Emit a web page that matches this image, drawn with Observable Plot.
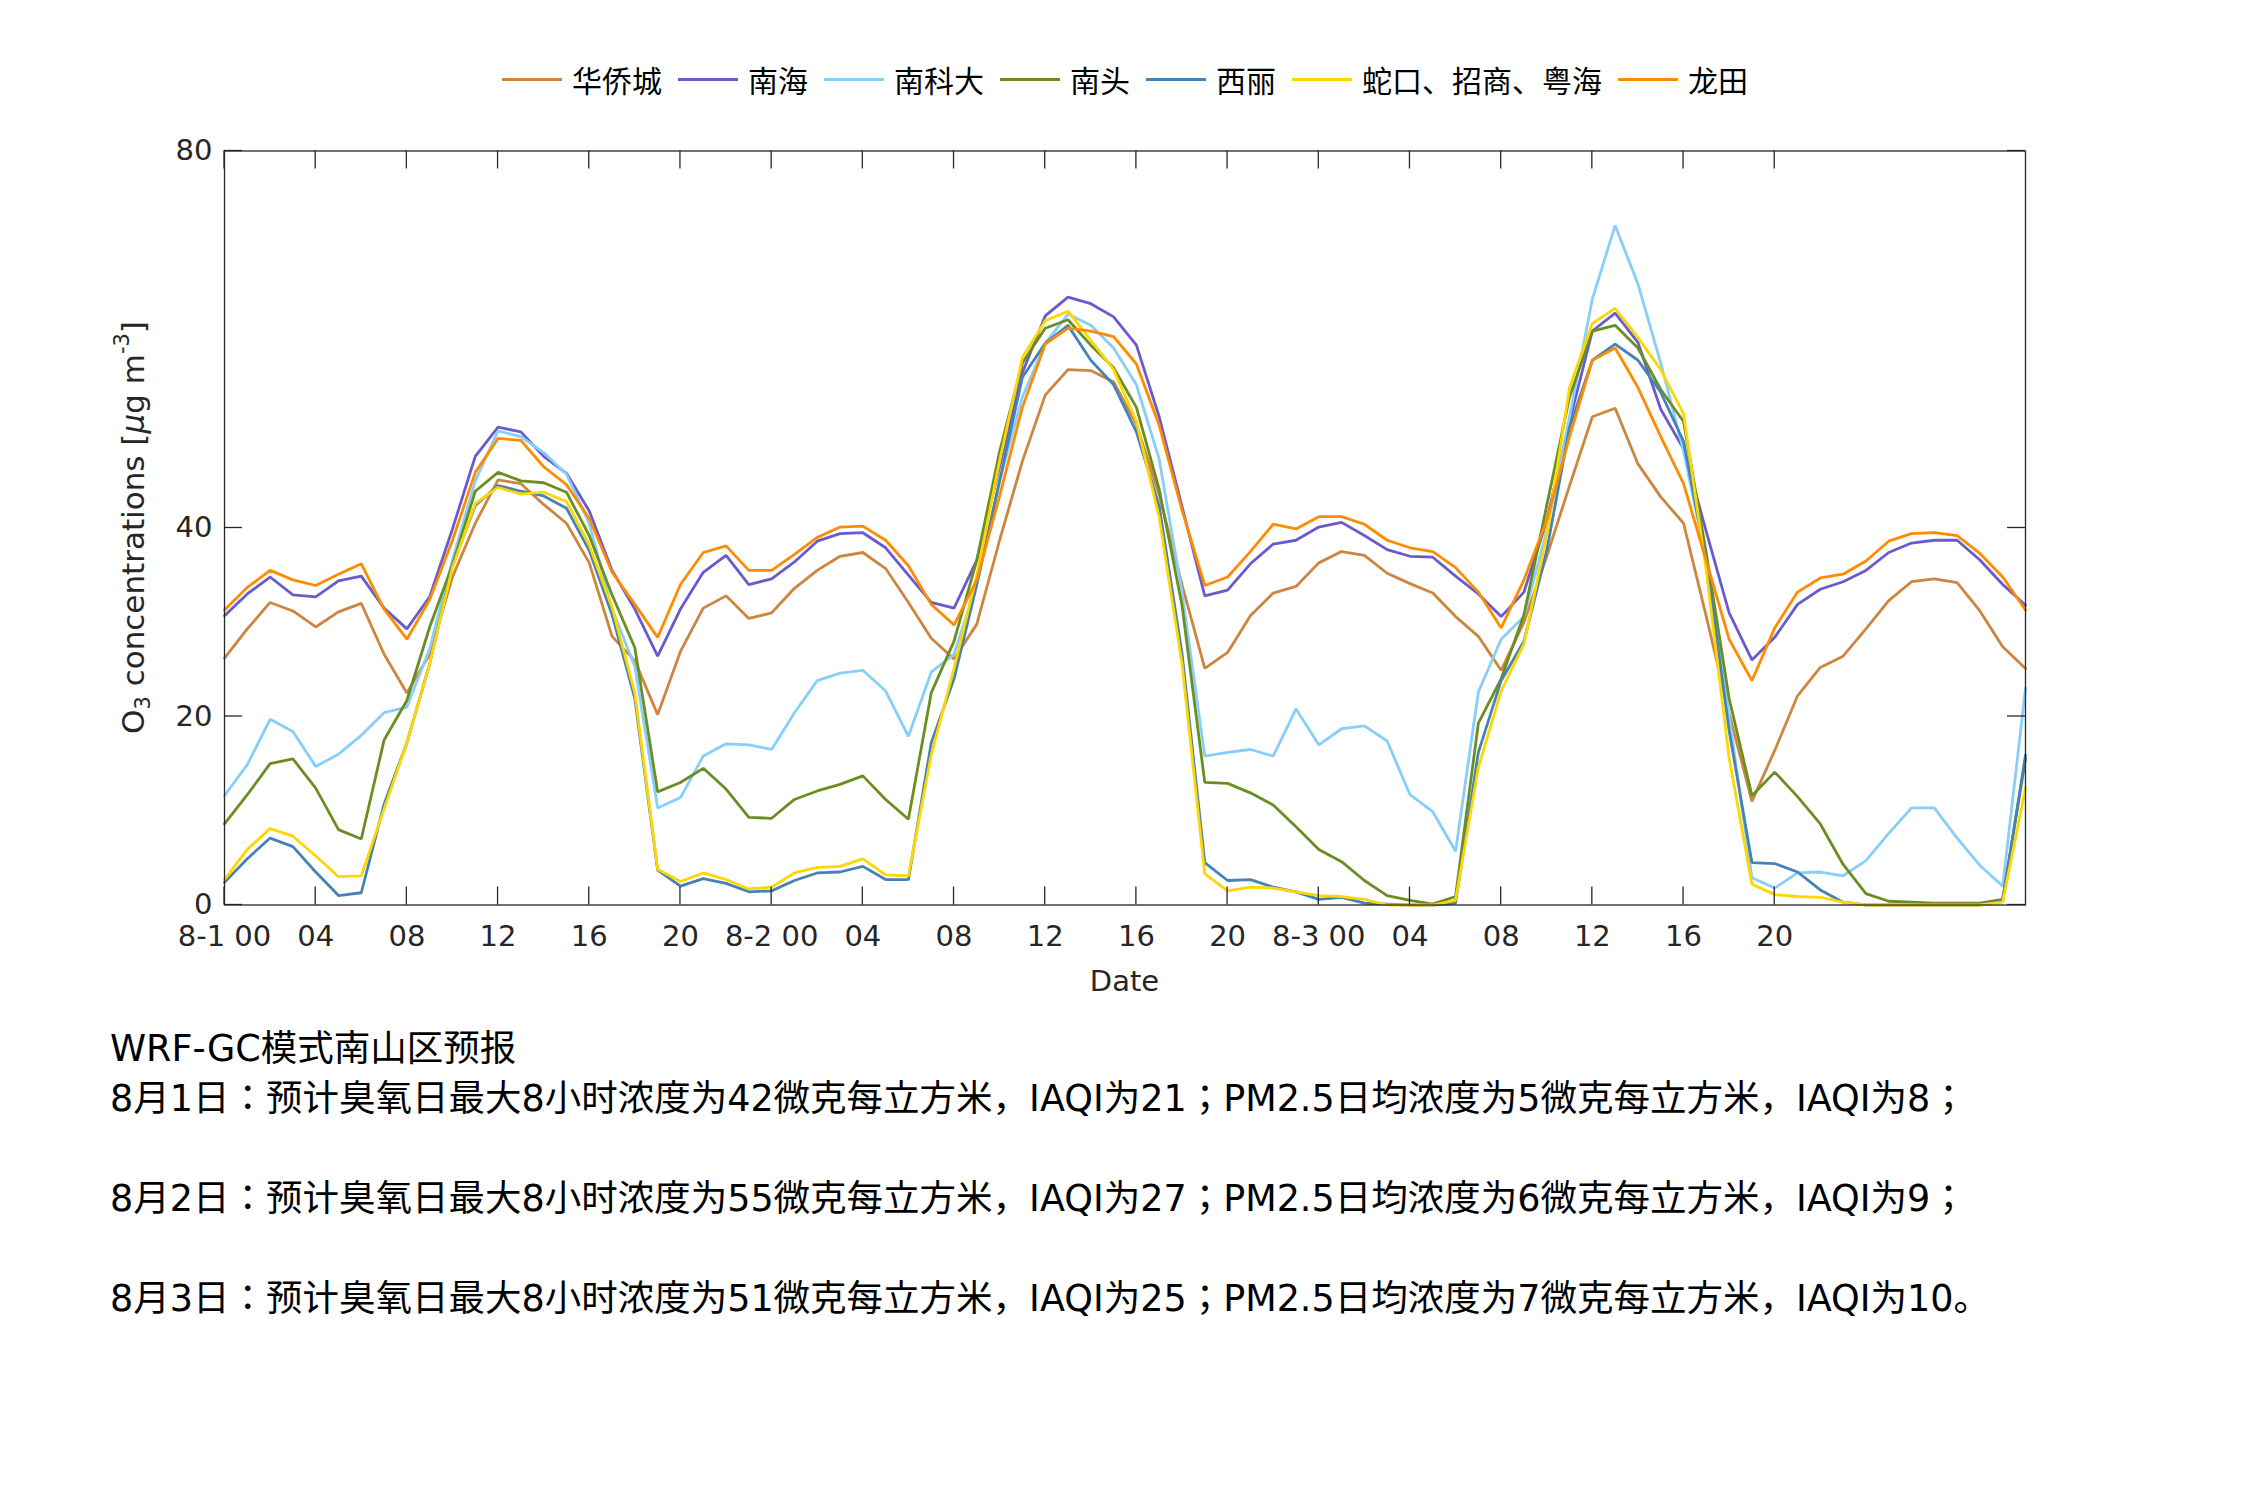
<!DOCTYPE html>
<html>
<head>
<meta charset="utf-8">
<script src="https://cdn.jsdelivr.net/npm/d3@7"></script>
<script src="https://cdn.jsdelivr.net/npm/@observablehq/plot@0.6"></script>
<style>
  body { margin: 0; background: #fff; width: 2250px; height: 1500px; position: relative; overflow: hidden;
         font-family: "Noto Sans CJK SC", "Noto Sans", sans-serif; }
  #legend { position: absolute; top: 57px; left: 0; width: 2250px; height: 44px; display: flex;
            justify-content: center; align-items: center; font-size: 30px; color: #000; }
  .item { display: flex; align-items: center; margin: 0 8px; }
  .swatch { width: 60px; height: 3px; margin-right: 10px; }
  #chart { position: absolute; top: 120px; left: 0; }
  #notes { position: absolute; left: 110px; top: 1024px; font-size: 36.5px; line-height: 50px; color: #000; white-space: pre;
           font-family: "DejaVu Sans", "Noto Sans CJK JP", sans-serif; }
  #notes div { height: 50px; }
</style>
</head>
<body>
<div id="legend"></div>
<div id="chart"></div>
<div id="notes"></div>
<script>
// ---------------- data ----------------
const seriesNames = ["华侨城", "南海", "南科大", "南头", "西丽", "蛇口、招商、粤海", "龙田"];
const seriesColors = ["#CD853F", "#6A5ACD", "#87CEFA", "#6B8E23", "#4682B4", "#FFD700", "#FF8C00"];

// hourly O3 forecasts, 8-1 00 .. 8-4 07 (80 hours)
const huaqiaocheng = [26.2,29.3,32.1,31.2,29.5,31.1,32.0,26.6,22.5,26.6,34.8,40.5,45.1,44.7,
  42.5,40.5,36.3,28.5,25.9,20.2,26.9,31.5,32.8,30.4,31.0,33.6,35.5,
  37.0,37.4,35.7,32.1,28.3,26.1,29.8,38.7,47.1,54.1,56.8,56.7,55.5,
  51.0,43.5,34.0,25.1,26.8,30.7,33.1,33.8,36.3,37.5,37.1,35.2,34.1,
  33.1,30.6,28.5,24.9,30.0,37.0,44.5,51.8,52.7,46.8,43.3,40.5,30.6,20.3,11.0,16.4,22.2,25.2,26.4,29.3,32.3,34.3,34.6,34.2,31.2,27.4,25.1];
const nanhai = [30.7,33.0,34.8,32.9,32.7,34.4,34.9,31.5,29.3,32.7,39.9,47.6,50.7,50.2,
  47.6,45.8,41.8,35.5,31.4,26.4,31.4,35.3,37.1,34.0,34.6,36.4,38.6,
  39.4,39.5,37.9,35.0,32.1,31.5,36.6,46.5,56.5,62.5,64.5,63.8,62.4,
  59.4,51.8,42.3,32.8,33.4,36.2,38.3,38.7,40.1,40.6,39.2,37.7,37.0,
  36.9,34.9,33.0,30.6,33.2,40.8,51.3,60.9,62.8,59.7,52.6,48.4,39.6,31.0,26.0,28.4,31.9,33.5,34.3,35.5,37.4,38.4,38.7,38.7,36.6,34.0,31.8];
const nankeda = [11.6,14.9,19.7,18.4,14.7,16.0,18.0,20.4,21.0,27.2,36.6,45.0,50.3,49.7,
  48.0,45.7,40.5,31.4,25.3,10.3,11.4,15.8,17.1,17.0,16.5,20.4,23.8,
  24.6,24.9,22.7,17.9,24.7,26.6,34.0,45.0,53.9,59.6,62.7,61.5,59.1,
  55.2,47.3,33.2,15.8,16.2,16.5,15.8,20.8,17.0,18.7,19.0,17.4,11.7,
  9.9,5.7,22.6,28.2,30.6,39.7,51.8,64.3,72.1,65.9,57.5,48.2,36.5,20.0,2.9,1.8,3.4,3.5,3.1,4.7,7.6,10.3,10.3,7.1,4.2,2.0,23.0];
const nantou = [8.6,11.7,15.0,15.5,12.4,8.0,7.0,17.5,21.7,29.5,36.1,43.9,45.9,45.0,
  44.8,43.8,39.2,32.9,27.3,12.0,13.0,14.5,12.3,9.3,9.2,11.2,12.1,
  12.8,13.7,11.2,9.1,22.5,28.0,36.6,48.1,57.5,61.2,62.1,59.4,57.0,
  52.8,44.1,31.8,13.0,12.9,11.9,10.6,8.3,5.9,4.6,2.6,1.0,0.5,
  0.1,0.9,19.3,24.0,30.8,42.4,53.9,60.9,61.5,59.1,54.7,51.3,37.3,21.9,11.6,14.1,11.5,8.6,4.3,1.2,0.4,0.3,0.2,0.2,0.2,0.6,15.5];
const xili = [2.4,4.9,7.1,6.2,3.5,1.0,1.3,10.7,17.2,25.6,36.0,42.4,44.5,43.9,
  43.4,42.1,37.6,30.8,21.9,3.7,2.0,2.8,2.3,1.4,1.5,2.6,3.4,
  3.5,4.1,2.7,2.7,17.2,24.0,34.0,45.0,56.0,59.6,61.5,57.8,55.2,
  50.2,42.3,26.7,4.5,2.6,2.7,1.9,1.4,0.6,0.8,0.2,0.1,0.0,
  0.0,0.2,16.2,23.8,28.0,37.6,50.7,57.8,59.5,57.8,54.4,49.2,36.5,18.5,4.5,4.4,3.5,1.6,0.3,0.0,0.0,0.0,0.0,0.0,0.0,0.5,15.9];
const shekou = [2.7,5.9,8.1,7.3,5.2,3.0,3.1,10.2,17.2,25.6,35.8,42.6,44.3,43.6,
  43.8,42.8,38.2,31.6,22.5,3.8,2.5,3.4,2.7,1.7,1.9,3.4,4.0,
  4.1,4.9,3.2,3.1,15.9,25.1,35.0,47.1,58.1,62.0,63.0,59.9,56.8,
  51.3,41.1,25.6,3.3,1.5,1.9,1.8,1.4,1.0,0.9,0.6,0.0,0.0,
  0.0,0.5,14.6,22.7,27.7,39.2,54.9,61.7,63.3,60.2,56.8,52.1,35.4,15.6,2.2,1.1,0.9,0.8,0.3,0.0,0.0,0.0,0.0,0.0,0.0,0.3,12.4];
const longtian = [31.3,33.7,35.5,34.5,33.9,35.1,36.2,31.4,28.2,32.4,38.7,45.9,49.5,49.3,
  46.5,44.6,41.0,35.3,31.9,28.4,34.0,37.4,38.1,35.5,35.5,37.2,39.0,
  40.1,40.2,38.7,36.0,31.9,29.7,34.5,43.4,52.8,59.5,61.2,60.9,60.3,
  57.4,50.9,41.9,33.9,34.8,37.5,40.4,39.9,41.2,41.2,40.4,38.7,37.9,
  37.5,35.8,33.2,29.4,34.5,40.8,49.7,57.8,59.1,54.9,49.7,44.7,36.5,28.2,23.8,29.4,33.2,34.7,35.1,36.5,38.6,39.4,39.5,39.2,37.3,34.8,31.3];

const xTicks = [0,4,8,12,16,20,24,28,32,36,40,44,48,52,56,60,64,68];
const xTickLabels = ["8-1 00","04","08","12","16","20","8-2 00","04","08","12","16","20","8-3 00","04","08","12","16","20"];
const yTicks = [0,20,40,80];
const yDomain = [0, 80];
const xLabel = "Date";

const noteTitle = "WRF-GC模式南山区预报";
const noteLines = [
  "8月1日：预计臭氧日最大8小时浓度为42微克每立方米，IAQI为21；PM2.5日均浓度为5微克每立方米，IAQI为8；",
  "",
  "8月2日：预计臭氧日最大8小时浓度为55微克每立方米，IAQI为27；PM2.5日均浓度为6微克每立方米，IAQI为9；",
  "",
  "8月3日：预计臭氧日最大8小时浓度为51微克每立方米，IAQI为25；PM2.5日均浓度为7微克每立方米，IAQI为10。"
];

const seriesValues = [huaqiaocheng, nanhai, nankeda, nantou, xili, shekou, longtian];

// ---------------- legend ----------------
const legend = document.getElementById("legend");
seriesNames.forEach((name, k) => {
  const it = document.createElement("div"); it.className = "item";
  const sw = document.createElement("span"); sw.className = "swatch"; sw.style.background = seriesColors[k];
  const tx = document.createElement("span"); tx.textContent = name;
  it.appendChild(sw); it.appendChild(tx); legend.appendChild(it);
});

// ---------------- chart ----------------
const axisColor = "#262626";
const fontFam = "'DejaVu Sans', 'Noto Sans CJK SC', sans-serif";

function inwardTicks(index, scales, values, dims) {
  const {x, y} = scales;
  const left = dims.marginLeft, right = dims.width - dims.marginRight;
  const top = dims.marginTop, bottom = dims.height - dims.marginBottom;
  const L = 18;
  const g = d3.create("svg:g").attr("stroke", axisColor).attr("stroke-width", 1.3).attr("fill", "none");
  for (const t of xTicks) {
    const px = x(t);
    g.append("line").attr("x1", px).attr("x2", px).attr("y1", bottom).attr("y2", bottom - L);
    g.append("line").attr("x1", px).attr("x2", px).attr("y1", top).attr("y2", top + L);
  }
  for (const t of yTicks) {
    const py = y(t);
    g.append("line").attr("y1", py).attr("y2", py).attr("x1", left).attr("x2", left + L);
    g.append("line").attr("y1", py).attr("y2", py).attr("x1", right).attr("x2", right - L);
  }
  return g.node();
}

function axisLabels(index, scales, values, dims) {
  const left = dims.marginLeft, right = dims.width - dims.marginRight;
  const top = dims.marginTop, bottom = dims.height - dims.marginBottom;
  const g = d3.create("svg:g").attr("fill", axisColor).attr("font-family", fontFam);
  // x label
  g.append("text").attr("x", (left + right) / 2).attr("y", bottom + 78)
    .attr("text-anchor", "middle").attr("dominant-baseline", "middle").attr("font-size", 29).text(xLabel);
  // y label with sub/superscripts
  const cy = (top + bottom) / 2, cx = left - 89;
  const t = g.append("text").attr("transform", `translate(${cx},${cy}) rotate(-90)`)
    .attr("text-anchor", "middle").attr("dominant-baseline", "middle").attr("font-size", 31);
  t.append("tspan").text("O");
  t.append("tspan").attr("font-size", 21).attr("dy", 9).text("3");
  t.append("tspan").attr("dy", -9).text(" concentrations [");
  t.append("tspan").attr("font-style", "italic").text("μ");
  t.append("tspan").text("g m");
  t.append("tspan").attr("font-size", 21).attr("dy", -12).text("-3");
  t.append("tspan").attr("dy", 12).text("]");
  return g.node();
}

const lineMarks = seriesValues.map((vals, k) =>
  Plot.line(vals.map((v, i) => ({hour: i, value: v, series: seriesNames[k]})),
    {x: "hour", y: "value", stroke: seriesColors[k], strokeWidth: 2.8, strokeLinejoin: "miter"}));

const chart = Plot.plot({
  width: 2250,
  height: 890,
  marginLeft: 224,
  marginRight: 225,
  marginTop: 30.5,
  marginBottom: 105.5,
  style: {fontFamily: fontFam, fontSize: "29px", color: axisColor, background: "white", overflow: "visible"},
  x: {domain: [0, 79]},
  y: {domain: yDomain},
  marks: [
    ...lineMarks,
    Plot.frame({stroke: axisColor, strokeWidth: 1.3}),
    Plot.axisX(xTicks, {tickFormat: d => xTickLabels[xTicks.indexOf(d)], tickSize: 0, tickPadding: 20, fontSize: 29, label: null}),
    Plot.axisY(yTicks, {tickFormat: d => String(d), tickSize: 0, tickPadding: 12, fontSize: 29, label: null}),
    inwardTicks,
    axisLabels
  ]
});
document.getElementById("chart").appendChild(chart);

// ---------------- notes ----------------
const notes = document.getElementById("notes");
[noteTitle, ...noteLines].forEach(s => {
  const d = document.createElement("div"); d.textContent = s; notes.appendChild(d);
});
</script>
</body>
</html>
